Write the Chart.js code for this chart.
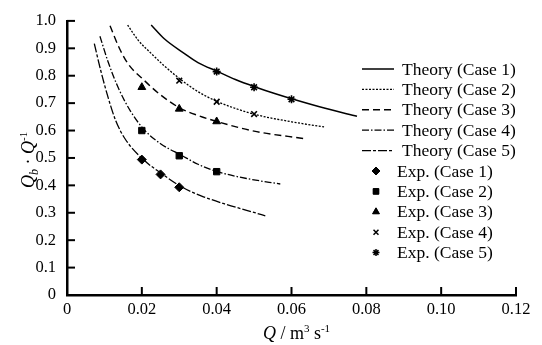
<!DOCTYPE html>
<html>
<head>
<meta charset="utf-8">
<script src="https://cdn.jsdelivr.net/npm/chart.js@4/dist/chart.umd.min.js"></script>
<style>
  html, body { margin: 0; padding: 0; background: #fff; }
  #c { display: block; }
</style>
</head>
<body>
<canvas id="c" width="542" height="345"></canvas>
<script>
// Axis tick labels
const xTickLabels = ['0', '0.02', '0.04', '0.06', '0.08', '0.10', '0.12'];
const yTickLabels = ['0', '0.1', '0.2', '0.3', '0.4', '0.5', '0.6', '0.7', '0.8', '0.9', '1.0'];

// Legend entries
const theoryLabels = ['Theory (Case 1)', 'Theory (Case 2)', 'Theory (Case 3)', 'Theory (Case 4)', 'Theory (Case 5)'];
const expLabels = ['Exp. (Case 1)', 'Exp. (Case 2)', 'Exp. (Case 3)', 'Exp. (Case 4)', 'Exp. (Case 5)'];

// Theoretical curves: [Q (m3/s), Qb/Q]
const theory1 = [[0.0225, 0.985], [0.026, 0.935], [0.0315, 0.88], [0.035, 0.848], [0.0403, 0.815],
                 [0.045, 0.786], [0.0505, 0.758], [0.0555, 0.735], [0.0605, 0.714], [0.069, 0.681], [0.0775, 0.652]];
const theory2 = [[0.0162, 0.985], [0.019, 0.93], [0.0226, 0.88], [0.026, 0.836], [0.0307, 0.783],
                 [0.035, 0.742], [0.0403, 0.705], [0.0505, 0.658], [0.06, 0.632], [0.0687, 0.613]];
const theory3 = [[0.0115, 0.982], [0.014, 0.9], [0.0164, 0.842], [0.0204, 0.786], [0.025, 0.73],
                 [0.0302, 0.682], [0.035, 0.655], [0.0403, 0.632], [0.0507, 0.596], [0.0632, 0.571]];
const theory4 = [[0.0088, 0.944], [0.011, 0.85], [0.0137, 0.756], [0.017, 0.67], [0.0207, 0.602],
                 [0.025, 0.552], [0.0307, 0.509], [0.035, 0.477], [0.0402, 0.45], [0.048, 0.425], [0.057, 0.405]];
const theory5 = [[0.0073, 0.917], [0.009, 0.82], [0.011, 0.72], [0.013, 0.637], [0.0155, 0.57],
                 [0.0204, 0.494], [0.0256, 0.44], [0.0308, 0.393], [0.036, 0.361], [0.042, 0.333], [0.048, 0.309], [0.053, 0.289]];

// Measured points
const exp1 = [[0.02, 0.494], [0.025, 0.44], [0.03, 0.393]];
const exp2 = [[0.02, 0.60], [0.03, 0.508], [0.04, 0.45]];
const exp3 = [[0.02, 0.758], [0.03, 0.679], [0.04, 0.633]];
const exp4 = [[0.03, 0.782], [0.04, 0.705], [0.05, 0.66]];
const exp5 = [[0.04, 0.815], [0.05, 0.758], [0.06, 0.714]];

const SERIF = '"Liberation Serif", "DejaVu Serif", serif';
const toXY = arr => arr.map(p => ({ x: p[0], y: p[1] }));

const lineDashes = [[], [2, 1.5], [7, 4], [7, 2, 1.5, 2], [9, 2, 3, 2]];
const lineWidths = [1.5, 1.3, 1.4, 1.3, 1.3];
const markerStyles = ['rectRot', 'rect', 'triangle', 'crossRot', 'star'];
const markerRadius = [4.5, 4.5, 4.5, 4, 4];

const theorySets = [theory1, theory2, theory3, theory4, theory5];
const expSets = [exp1, exp2, exp3, exp4, exp5];

const datasets = [];
theorySets.forEach((d, i) => {
  datasets.push({
    label: theoryLabels[i],
    data: toXY(d),
    showLine: true,
    borderColor: '#000',
    borderWidth: lineWidths[i],
    borderDash: lineDashes[i],
    pointRadius: 0,
    cubicInterpolationMode: 'monotone',
    fill: false
  });
});
expSets.forEach((d, i) => {
  datasets.push({
    label: expLabels[i],
    data: toXY(d),
    showLine: false,
    pointStyle: markerStyles[i],
    pointRadius: markerRadius[i],
    pointBackgroundColor: '#000',
    pointBorderColor: '#000',
    pointBorderWidth: (i >= 3) ? 1.6 : 1
  });
});

// Draws a run of text pieces with individual fonts and baseline shifts, centered on x
function drawRich(ctx, parts, cx, y) {
  let total = 0;
  parts.forEach(p => { ctx.font = p.font; total += ctx.measureText(p.t).width; });
  let x = cx - total / 2;
  parts.forEach(p => {
    ctx.font = p.font;
    ctx.fillText(p.t, x, y + (p.dy || 0));
    x += ctx.measureText(p.t).width;
  });
}

const decorations = {
  id: 'decorations',
  afterDraw(chart) {
    const ctx = chart.ctx;
    const xs = chart.scales.x, ys = chart.scales.y;
    const area = chart.chartArea;
    ctx.save();

    // Inward tick marks
    ctx.strokeStyle = '#000';
    ctx.lineWidth = 2;
    ctx.setLineDash([]);
    xs.ticks.forEach(t => {
      const px = xs.getPixelForValue(t.value);
      ctx.beginPath(); ctx.moveTo(px, area.bottom); ctx.lineTo(px, area.bottom - 8); ctx.stroke();
    });
    ys.ticks.forEach(t => {
      const py = ys.getPixelForValue(t.value);
      ctx.beginPath(); ctx.moveTo(area.left, py); ctx.lineTo(area.left + 8, py); ctx.stroke();
    });

    // Axis titles
    ctx.fillStyle = '#000';
    ctx.textBaseline = 'alphabetic';
    ctx.textAlign = 'left';
    const it = 'italic 18px ' + SERIF, rg = '18px ' + SERIF, sm = '11px ' + SERIF, smi = 'italic 12px ' + SERIF;
    drawRich(ctx, [
      { t: 'Q', font: it }, { t: ' / m', font: rg }, { t: '3', font: sm, dy: -7 },
      { t: ' s', font: rg }, { t: '-1', font: sm, dy: -7 }
    ], (area.left + area.right) / 2 + 5, 339);

    ctx.save();
    ctx.translate(34, (area.top + area.bottom) / 2 + 2);
    ctx.rotate(-Math.PI / 2);
    drawRich(ctx, [
      { t: 'Q', font: it }, { t: 'b', font: smi, dy: 4 }, { t: ' · ', font: rg },
      { t: 'Q', font: it }, { t: '-1', font: sm, dy: -7 }
    ], 0, 0);
    ctx.restore();

    // Legend
    const lx0 = 362, lx1 = 394, tx = 400, ly0 = 69, step = 20.4;
    ctx.font = '17.5px ' + SERIF;
    ctx.textBaseline = 'middle';
    theoryLabels.forEach((lab, i) => {
      const y = ly0 + i * step;
      ctx.lineWidth = lineWidths[i];
      ctx.setLineDash(lineDashes[i]);
      ctx.beginPath(); ctx.moveTo(lx0, y); ctx.lineTo(lx1, y); ctx.stroke();
      ctx.setLineDash([]);
      ctx.fillText(lab, tx + 2, y + 1);
    });
    expLabels.forEach((lab, i) => {
      const y = ly0 + (i + 5) * step;
      ctx.lineWidth = (i >= 3) ? 1.5 : 1;
      ctx.fillStyle = '#000';
      Chart.helpers.drawPoint(ctx, { pointStyle: markerStyles[i], radius: markerRadius[i] - 0.5, rotation: 0, borderWidth: 1 }, 376, y);
      ctx.fill();
      ctx.fillText(lab, tx - 3, y + 1);
    });
    ctx.restore();
  }
};

new Chart(document.getElementById('c'), {
  type: 'scatter',
  data: { datasets },
  options: {
    responsive: false,
    animation: false,
    events: [],
    layout: { padding: { left: 0, right: 26, top: 15, bottom: 0 } },
    plugins: { legend: { display: false }, tooltip: { enabled: false } },
    scales: {
      x: {
        type: 'linear', min: 0, max: 0.12,
        afterFit: s => { s.height = 50; },
        border: { display: true, color: '#000', width: 2.5 },
        grid: { drawOnChartArea: false, drawTicks: false },
        ticks: {
          stepSize: 0.02, padding: 5, color: '#000', maxRotation: 0,
          font: { family: SERIF, size: 16.5 },
          callback: (v, i) => xTickLabels[i]
        }
      },
      y: {
        type: 'linear', min: 0, max: 1.0,
        afterFit: s => { s.width = 67; },
        border: { display: true, color: '#000', width: 2.5 },
        grid: { drawOnChartArea: false, drawTicks: false },
        ticks: {
          stepSize: 0.1, padding: 11, color: '#000',
          font: { family: SERIF, size: 16.5 },
          callback: (v, i) => yTickLabels[i]
        }
      }
    }
  },
  plugins: [decorations]
});
</script>
</body>
</html>
